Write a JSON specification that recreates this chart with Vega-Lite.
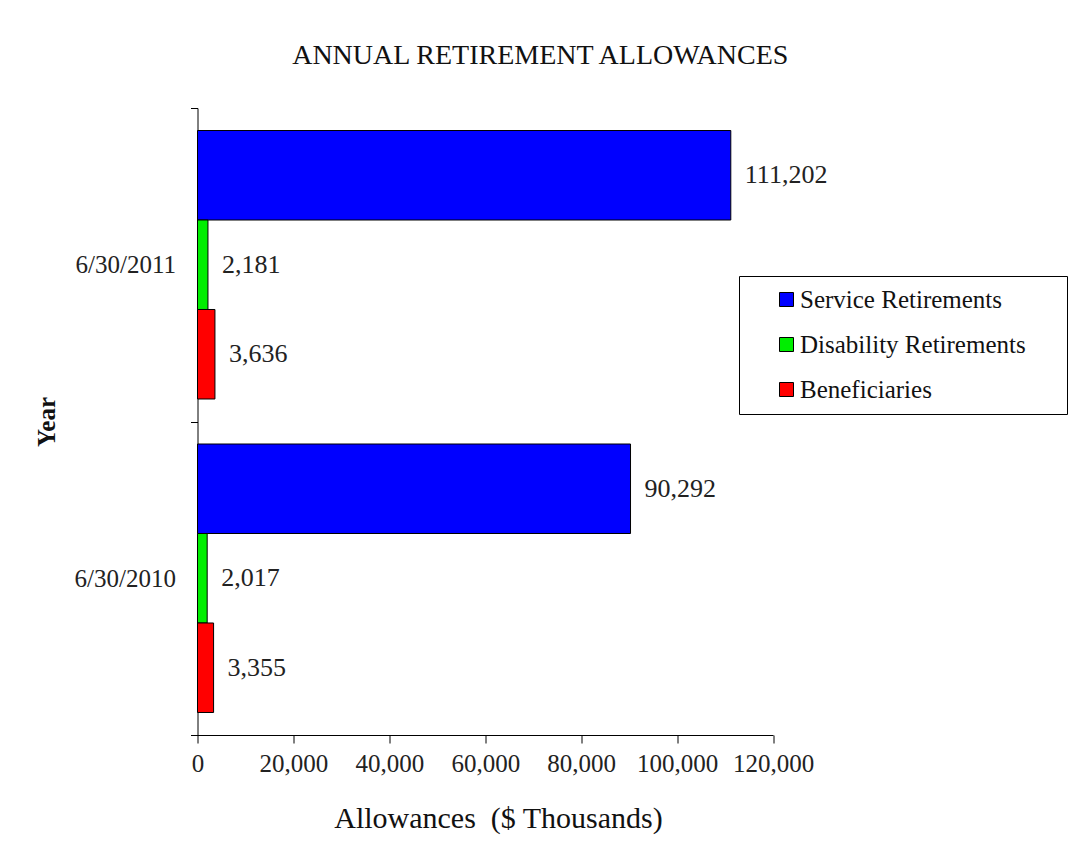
{
  "$schema": "https://vega.github.io/schema/vega-lite/v6.json",
  "autosize": {"type": "none"},
  "width": 575.5,
  "height": 627,
  "padding": {"left": 197.5, "top": 108, "right": 298, "bottom": 117},
  "background": "white",
  "title": {
    "text": "ANNUAL RETIREMENT ALLOWANCES",
    "font": "Liberation Serif",
    "fontSize": 28,
    "fontWeight": "normal",
    "color": "#111111",
    "anchor": "middle",
    "dx": 55,
    "offset": 26
  },
  "data": {
    "values": [
      {"year": "6/30/2011", "type": "Service Retirements", "value": 111202},
      {"year": "6/30/2011", "type": "Disability Retirements", "value": 2181},
      {"year": "6/30/2011", "type": "Beneficiaries", "value": 3636},
      {"year": "6/30/2010", "type": "Service Retirements", "value": 90292},
      {"year": "6/30/2010", "type": "Disability Retirements", "value": 2017},
      {"year": "6/30/2010", "type": "Beneficiaries", "value": 3355}
    ]
  },
  "encoding": {
    "y": {
      "field": "year",
      "type": "nominal",
      "sort": ["6/30/2011", "6/30/2010"],
      "scale": {"paddingInner": 0, "paddingOuter": 0},
      "axis": {
        "title": "Year",
        "titleFont": "Liberation Serif",
        "titleFontSize": 25,
        "titleFontWeight": "bold",
        "titleColor": "#111111",
        "titlePadding": 15,
        "labelFont": "Liberation Serif",
        "labelFontSize": 25,
        "labelColor": "#222222",
        "labelPadding": 15,
        "tickSize": 7,
        "tickBand": "extent",
        "tickColor": "black",
        "domainColor": "black",
        "labelAngle": 0
      }
    },
    "yOffset": {
      "field": "type",
      "type": "nominal",
      "sort": ["Service Retirements", "Disability Retirements", "Beneficiaries"],
      "scale": {"paddingInner": 0, "paddingOuter": 0.2514}
    },
    "x": {
      "field": "value",
      "type": "quantitative",
      "scale": {"domain": [0, 120000], "nice": false},
      "axis": {
        "title": "Allowances\u00a0 ($ Thousands)",
        "titleFont": "Liberation Serif",
        "titleFontSize": 30,
        "titleFontWeight": "normal",
        "titleColor": "#111111",
        "titlePadding": 27,
        "titleX": 300.5,
        "values": [0, 20000, 40000, 60000, 80000, 100000, 120000],
        "format": ",d",
        "labelFont": "Liberation Serif",
        "labelFontSize": 25,
        "labelColor": "#222222",
        "labelPadding": 8,
        "labelFlush": false,
        "labelOverlap": false,
        "tickSize": 8,
        "tickColor": "black",
        "domainColor": "black",
        "grid": false
      }
    }
  },
  "layer": [
    {
      "mark": {"type": "bar", "stroke": "black", "strokeWidth": 1},
      "encoding": {
        "color": {
          "field": "type",
          "type": "nominal",
          "sort": ["Service Retirements", "Disability Retirements", "Beneficiaries"],
          "scale": {
            "domain": ["Service Retirements", "Disability Retirements", "Beneficiaries"],
            "range": ["#0000ff", "#00ee00", "#ff0000"]
          },
          "legend": {
            "title": "\u2003",
            "titleOrient": "right",
            "titleFontSize": 24,
            "titlePadding": 30,
            "orient": "none",
            "legendX": 541.5,
            "legendY": 168,
            "padding": 11,
            "strokeColor": "black",
            "fillColor": "white",
            "symbolType": "square",
            "symbolSize": 196,
            "symbolStrokeColor": "black",
            "symbolStrokeWidth": 1,
            "symbolOffset": 24,
            "labelFont": "Liberation Serif",
            "labelFontSize": 25,
            "labelColor": "#111111",
            "labelOffset": 1,
            "labelLimit": 400,
            "rowPadding": 19
          }
        }
      }
    },
    {
      "mark": {
        "type": "text",
        "align": "left",
        "baseline": "middle",
        "dx": 14,
        "font": "Liberation Serif",
        "fontSize": 26,
        "color": "#222222"
      },
      "encoding": {
        "text": {"field": "value", "type": "quantitative", "format": ","}
      }
    }
  ],
  "config": {
    "view": {"stroke": null},
    "axis": {"domainWidth": 1, "tickWidth": 1}
  }
}
